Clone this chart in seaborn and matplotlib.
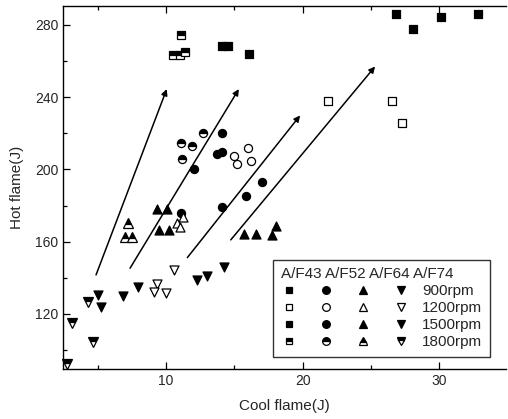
import matplotlib
matplotlib.use("Agg")
import matplotlib.pyplot as plt
from matplotlib.lines import Line2D
from matplotlib.ticker import MultipleLocator
import pandas as pd
import seaborn as sns

sns.set_style("ticks")
plt.rcParams["font.family"] = ["Liberation Sans", "DejaVu Sans"]

# Heat release of the cool flame and the hot flame (J) per A/F ratio and engine speed
af_labels = ["A/F43", "A/F52", "A/F64", "A/F74"]
speed_labels = ["900rpm", "1200rpm", "1500rpm", "1800rpm"]

cool_af43 = [26.85, 28.07, 30.17, 32.86, 21.85, 26.58, 27.31, 14.10, 14.50, 16.08, 11.08, 10.53, 11.00, 11.39]
hot_af43 = [285.8, 278.0, 284.4, 286.0, 238.0, 238.0, 225.8, 268.1, 268.1, 263.9, 274.2, 263.1, 263.1, 265.0]
rpm_af43 = [900, 900, 900, 900, 1200, 1200, 1200, 1500, 1500, 1500, 1800, 1800, 1800, 1800]

cool_af52 = [14.08, 15.84, 17.06, 11.08, 14.98, 15.98, 15.18, 16.20, 12.07, 13.71, 14.08, 14.08, 11.08, 11.88, 12.69, 11.17]
hot_af52 = [179.4, 185.4, 193.3, 176.1, 207.5, 211.8, 202.9, 204.9, 200.2, 208.5, 209.4, 220.4, 214.9, 213.2, 220.4, 205.9]
rpm_af52 = [900, 900, 900, 900, 1200, 1200, 1200, 1200, 1500, 1500, 1500, 1500, 1800, 1800, 1800, 1800]

cool_af64 = [15.69, 16.57, 17.79, 18.06, 11.22, 10.78, 11.03, 9.32, 10.05, 9.51, 10.22, 7.24, 7.00, 7.49]
hot_af64 = [164.2, 164.2, 163.8, 168.9, 173.6, 170.6, 168.0, 178.0, 178.0, 166.5, 166.5, 170.2, 162.5, 162.5]
rpm_af64 = [900, 900, 900, 900, 1200, 1200, 1200, 1500, 1500, 1500, 1500, 1800, 1800, 1800]

cool_af74 = [12.25, 12.98, 14.25, 9.32, 9.14, 10.00, 10.61, 5.04, 5.21, 6.83, 7.93, 2.72, 3.09, 4.68, 4.31]
hot_af74 = [138.8, 141.2, 145.9, 136.6, 132.2, 131.5, 144.4, 130.5, 123.7, 130.0, 134.8, 92.0, 115.2, 104.7, 126.6]
rpm_af74 = [900, 900, 900, 1200, 1200, 1200, 1200, 1500, 1500, 1500, 1500, 1800, 1800, 1800, 1800]

# Trend arrows (tail -> head) in data coordinates
arrow_tails = [(4.87, 141.6), (7.36, 145.3), (11.56, 151.2), (14.74, 161.0)]
arrow_heads = [(10.05, 244.5), (15.33, 244.5), (19.82, 229.9), (25.31, 257.0)]

frames = []
for af, c, h, r in zip(af_labels,
                       [cool_af43, cool_af52, cool_af64, cool_af74],
                       [hot_af43, hot_af52, hot_af64, hot_af74],
                       [rpm_af43, rpm_af52, rpm_af64, rpm_af74]):
    frames.append(pd.DataFrame({"af": af, "cool": c, "hot": h, "rpm": r}))
df = pd.concat(frames, ignore_index=True)

marker_of = {"A/F43": "s", "A/F52": "o", "A/F64": "^", "A/F74": "v"}
size_of = {"A/F43": 26, "A/F52": 34, "A/F64": 42, "A/F74": 42}
fill_of = {900: "full", 1200: "none", 1500: "full", 1800: "top"}

fig = plt.figure(figsize=(5.08, 4.19), dpi=100)
ax = fig.add_axes([63 / 508, 1 - 369 / 419, 443 / 508, 363 / 419])

for (af, rpm), sub in df.groupby(["af", "rpm"], sort=False):
    m = marker_of[af]
    style = fill_of[rpm]
    if style == "top":
        ax.plot(sub["cool"], sub["hot"], linestyle="none", marker=m,
                markersize=size_of[af] ** 0.5, fillstyle="top",
                markerfacecolor="black", markerfacecoloralt="white",
                markeredgecolor="black", markeredgewidth=0.9, clip_on=False, zorder=3)
    else:
        sns.scatterplot(data=sub, x="cool", y="hot", marker=m, s=size_of[af],
                        color="black" if style == "full" else "white",
                        edgecolor="black", linewidth=0.9, ax=ax, legend=False,
                        clip_on=False, zorder=3)

for tail, head in zip(arrow_tails, arrow_heads):
    ax.annotate("", xy=head, xytext=tail,
                arrowprops=dict(arrowstyle="-|>", color="black", lw=1.1,
                                mutation_scale=9, shrinkA=0, shrinkB=0))

ax.set_xlim(2.45, 34.9)
ax.set_ylim(89.5, 290.5)
ax.xaxis.set_major_locator(MultipleLocator(10))
ax.xaxis.set_minor_locator(MultipleLocator(5))
ax.yaxis.set_major_locator(MultipleLocator(40))
ax.yaxis.set_minor_locator(MultipleLocator(20))
ax.tick_params(which="both", direction="in", top=True, right=False,
               labelsize=10, color="black", width=0.9)
ax.tick_params(which="major", length=5)
ax.tick_params(which="minor", length=3)
for side in ["left", "bottom", "top"]:
    ax.spines[side].set_color("black")
    ax.spines[side].set_linewidth(1.0)
ax.spines["right"].set_visible(False)

ax.set_xlabel("Cool flame(J)", fontsize=11, labelpad=8)
ax.set_ylabel("Hot flame(J)", fontsize=11, labelpad=8)

# Legend grid: one column of markers per A/F ratio, one row per speed
handles, labels = [], []
for af in af_labels:
    for rpm, lab in zip([900, 1200, 1500, 1800], speed_labels):
        style = fill_of[rpm]
        kw = dict(marker=marker_of[af], linestyle="none", color="black",
                  markeredgecolor="black", markeredgewidth=0.9,
                  markersize=size_of[af] ** 0.5 * 0.95)
        if style == "none":
            kw["markerfacecolor"] = "white"
        elif style == "top":
            kw.update(fillstyle="top", markerfacecolor="black", markerfacecoloralt="white")
        handles.append(Line2D([], [], **kw))
        labels.append(lab if af == "A/F74" else "")

leg = ax.legend(handles, labels, ncol=4, title=" ".join(af_labels),
                loc="lower right", bbox_to_anchor=(0.964, 0.033), borderaxespad=0,
                fontsize=11, title_fontsize=11, alignment="left",
                handlelength=1.0, handletextpad=0.9, columnspacing=0.55,
                labelspacing=0.2, frameon=True, fancybox=False, borderpad=0.5)
leg.get_frame().set_edgecolor("black")
leg.get_frame().set_linewidth(1.0)

fig.savefig("out.png", dpi=100)
